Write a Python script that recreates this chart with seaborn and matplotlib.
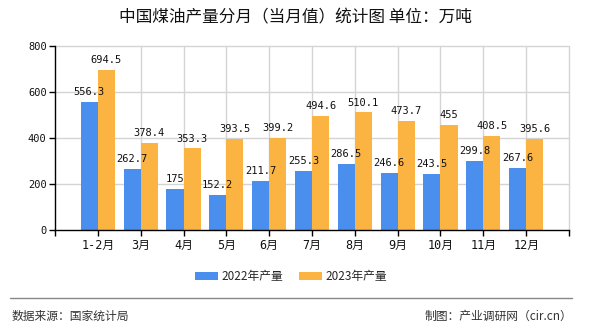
import matplotlib
matplotlib.use("Agg")
import matplotlib.pyplot as plt
import seaborn as sns
import pandas as pd
from matplotlib.patches import Patch

categories = ["1-2月", "3月", "4月", "5月", "6月", "7月", "8月", "9月", "10月", "11月", "12月"]
values_2022 = [556.3, 262.7, 175, 152.2, 211.7, 255.3, 286.5, 246.6, 243.5, 299.8, 267.6]
values_2023 = [694.5, 378.4, 353.3, 393.5, 399.2, 494.6, 510.1, 473.7, 455, 408.5, 395.6]
series_names = ["2022年产量", "2023年产量"]
label_2022 = ["556.3", "262.7", "175", "152.2", "211.7", "255.3", "286.5", "246.6", "243.5", "299.8", "267.6"]
label_2023 = ["694.5", "378.4", "353.3", "393.5", "399.2", "494.6", "510.1", "473.7", "455", "408.5", "395.6"]
y_ticks = [0, 200, 400, 600, 800]

title = "中国煤油产量分月（当月值）统计图 单位：万吨"
source = "数据来源：国家统计局"
credit = "制图：产业调研网（cir.cn）"

colors = ["#4a8fee", "#fbb341"]

sns.set_theme(style="white")
CJK = ["Noto Sans CJK SC", "DejaVu Sans"]
MONO = ["DejaVu Sans Mono", "Noto Sans CJK SC"]
plt.rcParams["font.family"] = CJK
plt.rcParams["axes.unicode_minus"] = False

df = pd.DataFrame({
    "month": categories * 2,
    "value": values_2022 + values_2023,
    "series": [series_names[0]] * len(categories) + [series_names[1]] * len(categories),
})

fig = plt.figure(figsize=(5.9, 3.3), dpi=100)
ax = fig.add_axes([55 / 590, 1 - 229.5 / 330, 514 / 590, (229.5 - 46) / 330])

sns.barplot(data=df, x="month", y="value", hue="series", order=categories,
            hue_order=series_names, palette=colors, width=0.8, saturation=1,
            ax=ax, legend=False, zorder=3, linewidth=0, edgecolor="none")

for cont, labs in zip(ax.containers, [label_2022, label_2023]):
    ax.bar_label(cont, labels=labs, padding=3.5, fontsize=7.5,
                 family=MONO, color="#111111", zorder=4)

ax.set_xlim(-1, 11)
ax.set_ylim(0, 800)
ax.set_xlabel("")
ax.set_ylabel("")

grid_c = "#d4d4d4"
for y in y_ticks[1:]:
    ax.axhline(y, color=grid_c, lw=1, zorder=0, clip_on=False)
for x in range(1, 12):
    ax.axvline(x, color=grid_c, lw=1, zorder=0, clip_on=False)

for s in ["top", "right"]:
    ax.spines[s].set_visible(False)
for s in ["left", "bottom"]:
    ax.spines[s].set_color("#000000")
    ax.spines[s].set_linewidth(1)
    ax.spines[s].set_zorder(5)

ax.set_yticks(y_ticks)
ax.set_yticklabels([str(v) for v in y_ticks], family=MONO, fontsize=7.5)
ax.set_xticks(range(len(categories)))
ax.set_xticklabels(categories, family=MONO, fontsize=8.5)
ax.set_xticks([-1, 11], minor=True)
ax.tick_params(axis="both", which="both", direction="out", length=4, width=1,
               color="#000000", labelcolor="#111111", pad=2)
ax.tick_params(axis="x", which="major", pad=3)
ax.tick_params(axis="y", left=True)
ax.tick_params(axis="x", bottom=True, which="both")

fig.text(0.5, 1 - 18 / 330, title, ha="center", va="center", fontsize=12,
         color="#111111", family=CJK)

handles = [Patch(facecolor=colors[0], edgecolor="none"),
           Patch(facecolor=colors[1], edgecolor="none")]
fig.legend(handles, series_names, loc="center", bbox_to_anchor=(291 / 590, 1 - 276.7 / 330),
           ncol=2, frameon=False, handlelength=1.9, handleheight=0.7,
           handletextpad=0.3, columnspacing=1.4, prop={"family": CJK, "size": 8.5})

fig.add_artist(plt.Line2D([10 / 590, 572 / 590], [1 - 298.3 / 330] * 2,
                          transform=fig.transFigure, color="#888888", lw=1))
fig.text(12 / 590, 1 - 316.7 / 330, source, ha="left", va="center", fontsize=8.5, color="#333333")
fig.text(572 / 590, 1 - 316.7 / 330, credit, ha="right", va="center", fontsize=8.5, color="#333333")

fig.savefig("out.png", dpi=100)
